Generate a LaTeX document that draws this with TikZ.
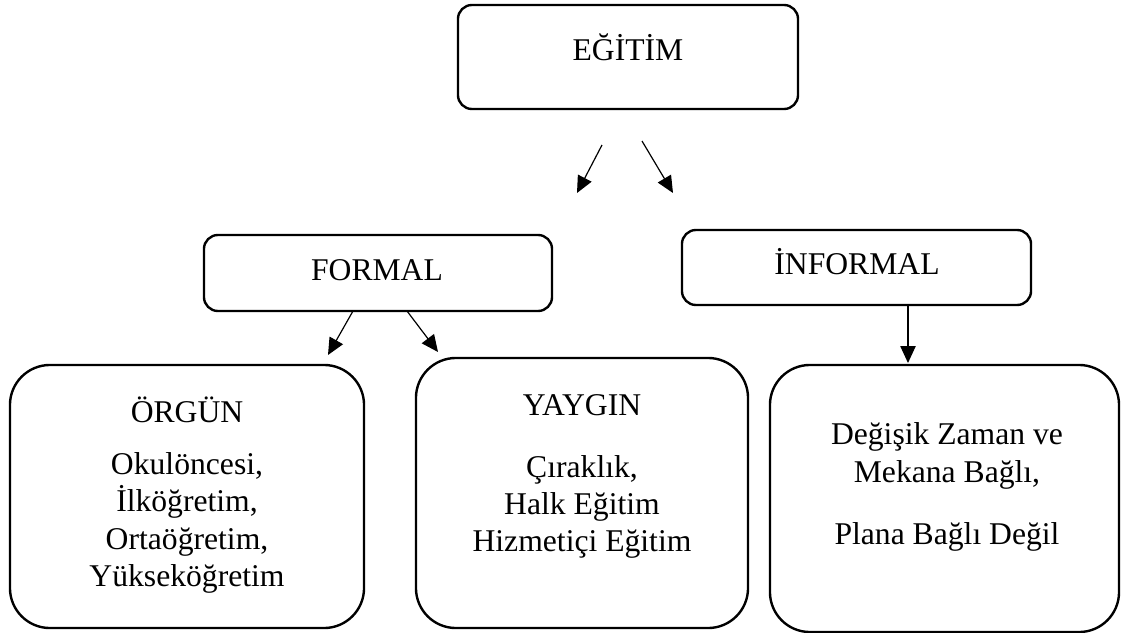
\documentclass[tikz,border=0pt]{standalone}
\usepackage{fontspec}
\setmainfont{Liberation Serif}
\usepackage{tikz}
\usetikzlibrary{arrows.meta, positioning}

\begin{document}
\begin{tikzpicture}[
            x=0.025cm, y=-0.025cm,
            box/.style={rectangle, draw, line width=1.7pt, rounded corners=0.35cm},
            bigbox/.style={rectangle, draw, line width=1.7pt, rounded corners=1cm},
            txt/.style={font=\fontsize{22.5}{26.5}\selectfont, align=center, inner sep=0pt},
            arrow/.style={-{Triangle[length=0.42cm, width=0.38cm]}, line width=0.85pt}
        ]

        \useasboundingbox (0,0) rectangle (1121,633);

        % Egitim
        \node[box, minimum width=8.5cm, minimum height=2.6cm] (egitim) at (628,57) {};
        \node[txt] (egitimT) at (628,47) {EĞİTİM};

        % Formal / Informal
        \node[box, minimum width=8.7cm, minimum height=1.9cm] (formal) at (378,273) {};
        \node[txt] (formalT) at (377,270) {FORMAL};
        \node[box, minimum width=8.725cm, minimum height=1.875cm] (informal) at (856.5,267.5) {};
        \node[txt] (informalT) at (857,262) {İNFORMAL};

        % Alt kutular
        \node[bigbox, minimum width=8.85cm, minimum height=6.575cm] (orgun) at (187,496.5) {};
        \node[txt] (orgunT) at (187,410) {ÖRGÜN};
        \node[txt] (orgunL) at (187,523) {Okulöncesi,\\İlköğretim,\\Ortaöğretim,\\Yükseköğretim};

        \node[bigbox, minimum width=8.3cm, minimum height=6.75cm] (yaygin) at (582,493) {};
        \node[txt] (yayginT) at (582,405) {YAYGIN};
        \node[txt] (yayginL) at (582,507) {Çıraklık,\\Halk Eğitim\\Hizmetiçi Eğitim};

        \node[bigbox, minimum width=8.725cm, minimum height=6.675cm] (plan) at (944.5,498.5) {};
        \node[txt] (planA) at (947,456) {Değişik Zaman ve\\Mekana Bağlı,};
        \node[txt] (planB) at (947,537) {Plana Bağlı Değil};

        % Ok uclari
        \coordinate (e1) at (602,145);
        \coordinate (e1t) at (577,193);
        \coordinate (e2) at (642,141);
        \coordinate (e2t) at (673,193);
        \coordinate (f1) at (353,311);
        \coordinate (f1t) at (328,355);
        \coordinate (f2) at (407,311);
        \coordinate (f2t) at (438,352);
        \coordinate (i1) at (908,305);
        \coordinate (i1t) at (908,363);

        % Baglantilar
        \draw[arrow] (e1) -- (e1t);
        \draw[arrow] (e2) -- (e2t);
        \draw[arrow] (f1) -- (f1t);
        \draw[arrow] (f2) -- (f2t);
        \draw[arrow] (i1) -- (i1t);

    \end{tikzpicture}
\end{document}
